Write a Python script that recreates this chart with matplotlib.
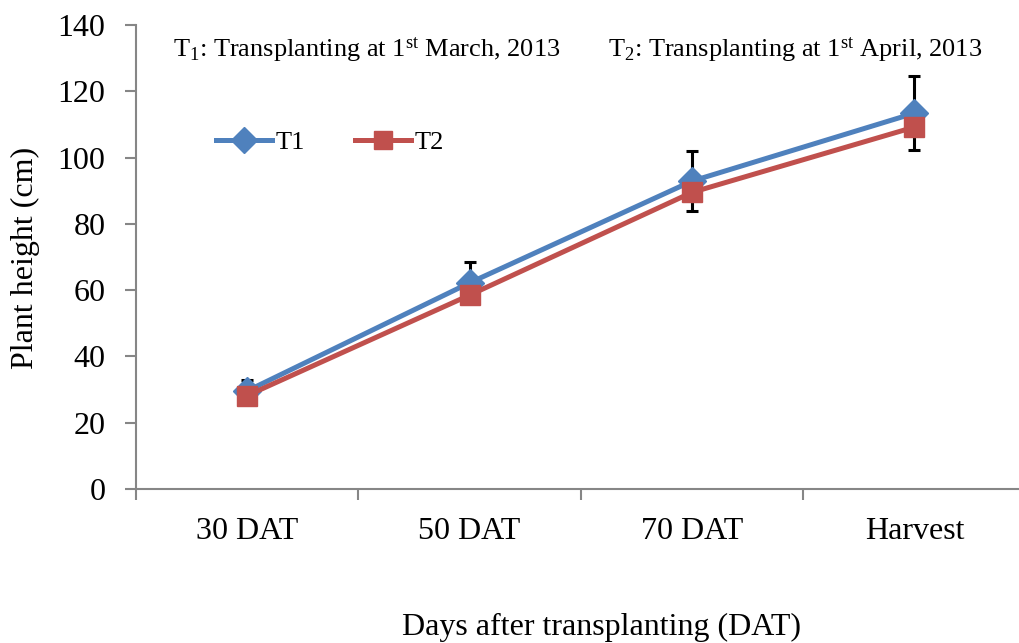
import matplotlib
matplotlib.use("Agg")
import matplotlib.pyplot as plt
import numpy as np

categories = ["30 DAT", "50 DAT", "70 DAT", "Harvest"]
t1_values = [29.6, 62.2, 92.9, 113.4]
t2_values = [28.2, 58.5, 89.5, 109.2]
t1_err_up = [3.3, 6.4, 9.2, 11.3]
t2_err_down = [1.0, 1.5, 5.6, 6.9]
y_ticks = [0, 20, 40, 60, 80, 100, 120, 140]

plt.rcParams['font.family'] = ['Liberation Serif', 'DejaVu Serif']
plt.rcParams['mathtext.fontset'] = 'custom'
plt.rcParams['mathtext.rm'] = 'Liberation Serif'
plt.rcParams['mathtext.it'] = 'Liberation Serif:italic'

W, H = 1019, 643
fig = plt.figure(figsize=(W / 100, H / 100), dpi=100)
left = 136 / W
bottom = 1 - 489 / H
top = 1 - 25 / H
ax = fig.add_axes([left, bottom, 1 - left, top - bottom])

blue = '#4F81BD'
red = '#C0504D'
axis_col = '#868686'

x = np.arange(len(categories)) + 0.5

ax.errorbar(x, t1_values, yerr=[np.zeros(len(x)), t1_err_up], fmt='none',
            ecolor='black', elinewidth=2.2, capsize=4.5, capthick=2.2, zorder=2)
ax.errorbar(x, t2_values, yerr=[t2_err_down, np.zeros(len(x))], fmt='none',
            ecolor='black', elinewidth=2.2, capsize=4.5, capthick=2.2, zorder=2)
ax.plot(x, t1_values, color=blue, lw=3.6, marker='D', ms=14, mec=blue, mfc=blue,
        label='T1', zorder=3)
ax.plot(x, t2_values, color=red, lw=3.6, marker='s', ms=14.5, mec=red, mfc=red,
        label='T2', zorder=4)

ax.set_xlim(0, (W - 136) / 222.4)
ax.set_ylim(0, 140)
ax.set_yticks(y_ticks)
ax.set_yticklabels([str(v) for v in y_ticks], fontsize=23)
ax.set_xticks([0, 1, 2, 3])
ax.set_xticklabels([])
ax.set_xticks(x, minor=True)
ax.set_xticklabels(categories, minor=True, fontsize=23)
ax.tick_params(axis='x', which='minor', length=0, pad=20)
ax.tick_params(axis='x', which='major', length=8, width=1.5, color=axis_col, direction='out')
ax.tick_params(axis='y', length=8, width=1.5, color=axis_col, direction='out', pad=14)

for s in ['top', 'right']:
    ax.spines[s].set_visible(False)
for s in ['left', 'bottom']:
    ax.spines[s].set_color(axis_col)
    ax.spines[s].set_linewidth(1.5)

fig.text(25 / W, 1 - 258 / H, 'Plant height (cm)', rotation=90, fontsize=23,
         ha='center', va='center')
fig.text(602 / W, 1 - 627 / H, 'Days after transplanting (DAT)', fontsize=23,
         ha='center', va='center')

fig.text(173 / W, 1 - 56 / H, r'T$_1$: Transplanting at 1$^{\rm st}$ March, 2013',
         fontsize=19, ha='left', va='baseline')
fig.text(608 / W, 1 - 56 / H, r'T$_2$: Transplanting at 1$^{\rm st}$ April, 2013',
         fontsize=19, ha='left', va='baseline')

leg = ax.legend(loc='center left', bbox_to_anchor=(198 / W, 1 - 142 / H),
                bbox_transform=fig.transFigure, ncol=2, frameon=False,
                fontsize=19, handlelength=2.1, handletextpad=0.15,
                columnspacing=1.9, borderpad=0.2)
for h in leg.legend_handles:
    h.set_markersize(13)

fig.savefig('out.png', dpi=100)
